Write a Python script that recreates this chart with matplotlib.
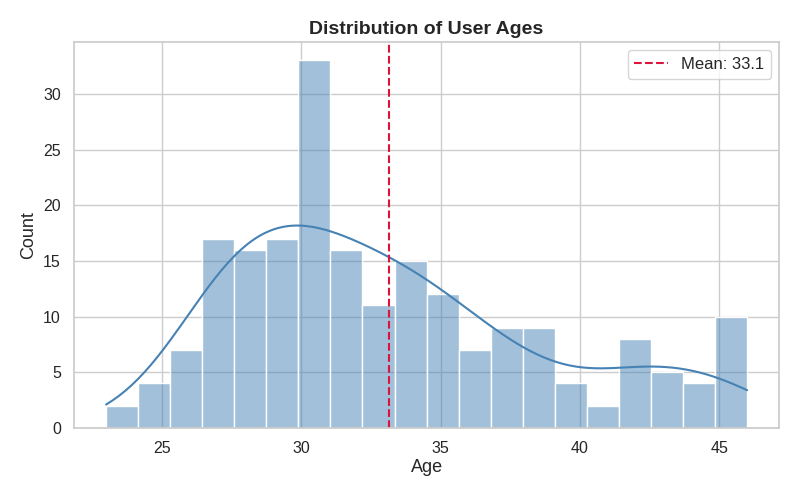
import numpy as np
import matplotlib
matplotlib.use('Agg')
import matplotlib.pyplot as plt
import seaborn as sns

# ages (integer years) and how many users have each age
ages = [23, 24, 25, 26, 27, 28, 29, 30, 31, 32, 33, 34,
        35, 36, 37, 38, 39, 40, 41, 42, 43, 44, 45, 46]
counts = [1, 1, 4, 7, 17, 16, 17, 18, 15, 16, 11, 15,
          12, 7, 9, 5, 4, 4, 2, 8, 5, 4, 5, 5]

data = np.repeat(ages, counts)
mean_age = data.mean()

sns.set_theme(style='whitegrid')
plt.rcParams['font.family'] = ['Liberation Sans', 'DejaVu Sans']

fig, ax = plt.subplots(figsize=(8, 5), dpi=100)
sns.histplot(data, bins=20, kde=True, color='steelblue', alpha=0.5,
             edgecolor='white', ax=ax)
ax.axvline(mean_age, color='crimson', ls='--', lw=1.5,
           label=f'Mean: {mean_age:.1f}')

ax.set_title('Distribution of User Ages', fontsize=14, fontweight='bold')
ax.set_xlabel('Age', fontsize=13, labelpad=2)
ax.set_ylabel('Count', fontsize=13)
ax.tick_params(labelsize=11.5)
ax.legend(loc='upper right', fontsize=12)

plt.tight_layout()
fig.subplots_adjust(left=0.0925, right=0.974, top=0.916, bottom=0.144)
plt.savefig('out.png', dpi=100)
